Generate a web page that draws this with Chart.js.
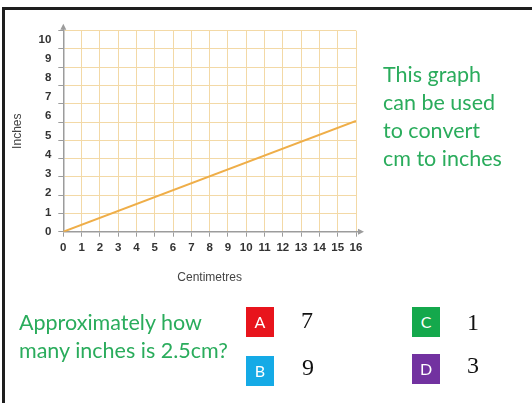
<!DOCTYPE html>
<html>
<head>
<meta charset="utf-8">
<script src="https://cdn.jsdelivr.net/npm/chart.js@4"></script>
<style>
  html, body { margin: 0; padding: 0; background: #ffffff; }
  #page { position: relative; width: 532px; height: 403px; overflow: hidden; background: #ffffff; }
  #frameTop { position: absolute; left: 2px; top: 7px; width: 530px; height: 3px; background: #1e1e1e; }
  #frameLeft { position: absolute; left: 2px; top: 7px; width: 3px; height: 396px; background: #1e1e1e; }
  #c { position: absolute; left: 0; top: 0; }
  .green { position: absolute; color: #2aac5c; font-family: Lato, "Open Sans", sans-serif; font-size: 21.5px; line-height: 28px; white-space: nowrap; }
  .box { position: absolute; width: 28px; height: 30px; color: #fff; font-family: Lato, sans-serif; font-size: 16px; line-height: 30px; text-align: center; }
  .num { position: absolute; font-family: "Liberation Serif", "DejaVu Serif", serif; font-size: 24px; line-height: 30px; color: #111; }
</style>
</head>
<body>
<div id="page">
  <div id="frameTop"></div>
  <div id="frameLeft"></div>
  <canvas id="c" width="532" height="403"></canvas>
  <div class="green" style="left:383px; top:60px;">This graph<br>can be used<br>to convert<br>cm to inches</div>
  <div class="green" style="left:19px; top:308px;">Approximately how<br>many inches is 2.5cm?</div>
  <div class="box" style="left:246px; top:307px; background:#e8141c;">A</div>
  <div class="box" style="left:246px; top:356px; background:#15aae6;">B</div>
  <div class="box" style="left:412px; top:307px; background:#14a84c;">C</div>
  <div class="box" style="left:412px; top:354px; background:#7232a0;">D</div>
  <div class="num" style="left:301px; top:305px;">7</div>
  <div class="num" style="left:302px; top:352px;">9</div>
  <div class="num" style="left:467px; top:307px;">1</div>
  <div class="num" style="left:467px; top:350px;">3</div>
</div>
<script>
// ---- data ----
const centimetres = [0, 16];
const inches = [0, 6.06];
const xTickLabels = [0, 1, 2, 3, 4, 5, 6, 7, 8, 9, 10, 11, 12, 13, 14, 15, 16];
const yTickLabels = [0, 1, 2, 3, 4, 5, 6, 7, 8, 9, 10];
const xTitle = 'Centimetres';
const yTitle = 'Inches';

const AXIS_GREY = '#9c9c9c';
const GRID = '#f3d9a6';

const arrowPlugin = {
  id: 'arrows',
  afterDraw(chart) {
    const ctx = chart.ctx;
    const xs = chart.scales.x, ys = chart.scales.y;
    const x0 = xs.getPixelForValue(0), y0 = ys.getPixelForValue(0);
    const ca = chart.chartArea;
    ctx.save();
    ctx.strokeStyle = AXIS_GREY; ctx.fillStyle = AXIS_GREY; ctx.lineWidth = 1.5;
    ctx.beginPath(); ctx.moveTo(ca.right, y0); ctx.lineTo(ca.right + 4, y0); ctx.stroke();
    ctx.beginPath(); ctx.moveTo(ca.right + 8, y0); ctx.lineTo(ca.right + 2, y0 - 3); ctx.lineTo(ca.right + 2, y0 + 3); ctx.closePath(); ctx.fill();
    ctx.beginPath(); ctx.moveTo(x0, ca.top); ctx.lineTo(x0, ca.top - 3); ctx.stroke();
    ctx.beginPath(); ctx.moveTo(x0, ca.top - 7); ctx.lineTo(x0 - 3, ca.top - 1); ctx.lineTo(x0 + 3, ca.top - 1); ctx.closePath(); ctx.fill();
    ctx.restore();
  }
};

const tickFont = { family: 'Liberation Sans', size: 11.5, weight: 'bold' };
const titleFont = { family: 'Liberation Sans', size: 12 };

new Chart(document.getElementById('c'), {
  type: 'line',
  data: {
    datasets: [{
      data: centimetres.map((c, i) => ({ x: c, y: inches[i] })),
      borderColor: '#efae48',
      borderWidth: 2,
      pointRadius: 0,
      fill: false,
      yAxisID: 'y'
    }]
  },
  options: {
    responsive: false,
    animation: false,
    layout: { padding: { left: 0, top: 30.7, right: 176, bottom: 0 } },
    plugins: { legend: { display: false }, tooltip: { enabled: false } },
    scales: {
      x: {
        type: 'linear', min: 0, max: 16,
        afterFit(s) { s.height = 171.3; },
        afterBuildTicks(s) { s.ticks = xTickLabels.map(v => ({ value: v })); },
        grid: { color: GRID, lineWidth: 1, tickColor: AXIS_GREY, tickLength: 5, drawTicks: true },
        border: { color: AXIS_GREY, width: 1.5 },
        ticks: { autoSkip: false, maxRotation: 0, padding: 4, color: '#333', font: tickFont },
        title: { display: true, text: xTitle, color: '#444', font: titleFont, padding: { top: 0, bottom: 118 } }
      },
      y: {
        type: 'linear', position: 'left', min: 0, max: 11, weight: 0,
        afterFit(s) { s.width = 0; },
        grid: { color: GRID, lineWidth: 1, tickColor: AXIS_GREY, tickLength: 5, drawTicks: true },
        border: { color: AXIS_GREY, width: 1.5 },
        ticks: { display: false, stepSize: 1 }
      },
      yLabels: {
        type: 'linear', position: 'left', min: 0, max: 10.45, weight: 1,
        afterFit(s) { s.width = 63.3; },
        afterBuildTicks(s) { s.ticks = yTickLabels.map(v => ({ value: v })); },
        grid: { display: false, drawTicks: false },
        border: { display: false },
        ticks: { padding: 12, color: '#333', font: tickFont },
        title: { display: true, text: yTitle, color: '#444', font: titleFont, padding: { top: 10, bottom: 0 } }
      }
    }
  },
  plugins: [arrowPlugin]
});
</script>
</body>
</html>
